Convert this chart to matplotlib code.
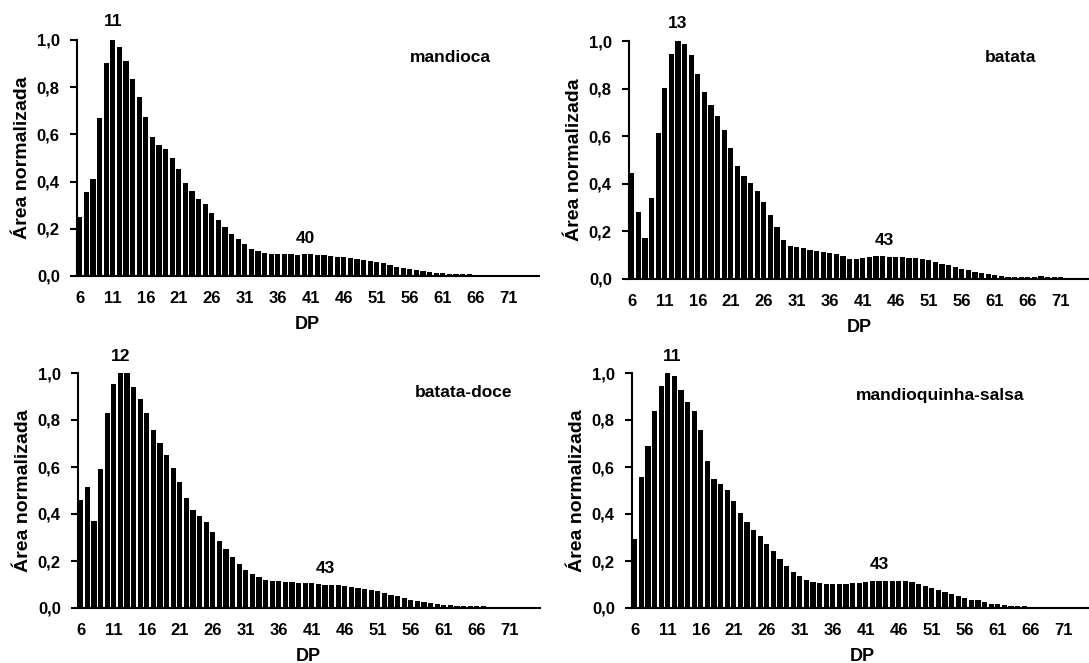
import matplotlib
matplotlib.use("Agg")
import matplotlib.pyplot as plt
import numpy as np

plt.rcParams['font.family'] = ['Liberation Sans', 'DejaVu Sans']
plt.rcParams['font.weight'] = 'bold'

dp = list(range(6, 76))
xtick_vals = list(range(6, 72, 5))

mandioca = [0.248, 0.356, 0.409, 0.668, 0.901, 1.0, 0.969, 0.912, 0.833, 0.760,
            0.672, 0.590, 0.557, 0.537, 0.502, 0.455, 0.396, 0.361, 0.328, 0.303,
            0.269, 0.239, 0.208, 0.180, 0.156, 0.137, 0.116, 0.105, 0.099, 0.094,
            0.093, 0.093, 0.093, 0.091, 0.094, 0.093, 0.090, 0.087, 0.084, 0.082,
            0.080, 0.077, 0.073, 0.069, 0.065, 0.060, 0.054, 0.047, 0.040, 0.034,
            0.029, 0.024, 0.020, 0.017, 0.013, 0.011, 0.009, 0.008, 0.007, 0.007,
            0.006, 0.006, 0.006, 0.005, 0.005, 0.005, 0.004, 0.0, 0.0, 0.0]

batata = [0.446, 0.283, 0.173, 0.341, 0.615, 0.803, 0.944, 1.0, 0.986, 0.940,
          0.863, 0.785, 0.730, 0.684, 0.628, 0.552, 0.476, 0.434, 0.404, 0.371,
          0.322, 0.269, 0.217, 0.164, 0.140, 0.136, 0.129, 0.122, 0.117, 0.115,
          0.110, 0.105, 0.097, 0.085, 0.085, 0.088, 0.092, 0.096, 0.096, 0.093,
          0.092, 0.092, 0.090, 0.088, 0.084, 0.079, 0.070, 0.064, 0.058, 0.050,
          0.042, 0.036, 0.031, 0.025, 0.020, 0.016, 0.013, 0.010, 0.008, 0.007,
          0.007, 0.008, 0.011, 0.009, 0.008, 0.007, 0.006, 0.0, 0.0, 0.0]

batata_doce = [0.461, 0.516, 0.369, 0.591, 0.830, 0.955, 1.0, 1.0, 0.940, 0.891,
               0.830, 0.756, 0.702, 0.652, 0.596, 0.535, 0.468, 0.418, 0.390, 0.365,
               0.322, 0.287, 0.252, 0.218, 0.189, 0.163, 0.145, 0.130, 0.121, 0.116,
               0.115, 0.111, 0.109, 0.108, 0.107, 0.105, 0.102, 0.100, 0.098, 0.096,
               0.092, 0.088, 0.085, 0.081, 0.077, 0.072, 0.063, 0.055, 0.049, 0.043,
               0.036, 0.030, 0.026, 0.021, 0.017, 0.014, 0.011, 0.009, 0.008, 0.007,
               0.007, 0.007, 0.006, 0.006, 0.006, 0.005, 0.005, 0.004, 0.003, 0.0]

mandioquinha = [0.295, 0.556, 0.688, 0.840, 0.943, 1.0, 0.986, 0.926, 0.878, 0.837,
                0.756, 0.624, 0.550, 0.528, 0.501, 0.457, 0.403, 0.365, 0.330, 0.305,
                0.272, 0.241, 0.209, 0.177, 0.155, 0.135, 0.121, 0.111, 0.106, 0.104,
                0.102, 0.102, 0.103, 0.106, 0.108, 0.111, 0.114, 0.116, 0.116, 0.116,
                0.115, 0.113, 0.109, 0.103, 0.095, 0.087, 0.078, 0.069, 0.060, 0.051,
                0.043, 0.036, 0.032, 0.025, 0.019, 0.017, 0.014, 0.010, 0.008, 0.007,
                0.006, 0.006, 0.006, 0.006, 0.006, 0.006, 0.006, 0.006, 0.006, 0.005]

names = ["mandioca", "batata", "batata-doce", "mandioquinha-salsa"]
series = [mandioca, batata, batata_doce, mandioquinha]
peak_labels = [("11", 11), ("13", 13), ("12", 12), ("11", 11)]
second_labels = [("40", 40), ("43", 43), ("43", 43), ("43", 43)]

W, H = 1089, 663
fig = plt.figure(figsize=(W / 100, H / 100), dpi=100)

# (left px, y of 0 px, y of 1.0 px)
boxes = [(76.5, 276, 40), (628.5, 279, 41), (77.5, 608, 373), (631.5, 608, 373)]
axw = 462
peak_pos = [(11, 1.08), (13, 1.075), (12, 1.072), (11.6, 1.072)]
sec_pos = [(40.2, 0.161), (44.2, 0.16), (43, 0.166), (43, 0.187)]
name_pos = [(56.0, 0.924), (59.5, 0.929), (56.6, 0.915), (39.5, 0.906)]

for i in range(4):
    lx, y0, y1 = boxes[i]
    ax = fig.add_axes([lx / W, (H - y0) / H, axw / W, (y0 - y1) / H])
    ax.bar(dp, series[i], width=0.78, color='black')
    ax.set_xlim(5.5, 75.5)
    ax.set_ylim(0, 1.0)
    ax.set_yticks(np.arange(0, 1.01, 0.2))
    ax.set_yticklabels([f"{v:.1f}".replace('.', ',') for v in np.arange(0, 1.01, 0.2)])
    ax.set_xticks(xtick_vals)
    ax.set_xticklabels([str(v) for v in xtick_vals])
    ax.tick_params(axis='x', length=0, pad=11, labelsize=12)
    ax.tick_params(axis='y', length=5, width=1.5, direction='out', pad=7, labelsize=12)
    for s in ['top', 'right']:
        ax.spines[s].set_visible(False)
    ax.spines['left'].set_linewidth(1.5)
    ax.spines['bottom'].set_linewidth(1.5)
    ax.set_xlabel("DP", fontsize=13, fontweight='bold', labelpad=7)
    ax.set_ylabel("Área normalizada", fontsize=14, fontweight='bold', labelpad=4)
    ax.text(peak_pos[i][0], peak_pos[i][1], peak_labels[i][0], ha='center', va='center',
            fontsize=12.5, fontweight='bold', clip_on=False)
    ax.text(sec_pos[i][0], sec_pos[i][1], second_labels[i][0], ha='center', va='center',
            fontsize=12.5, fontweight='bold', clip_on=False)
    ax.text(name_pos[i][0], name_pos[i][1], names[i], ha='left', va='center',
            fontsize=12.5, fontweight='bold')

fig.savefig("out.png", dpi=100)
